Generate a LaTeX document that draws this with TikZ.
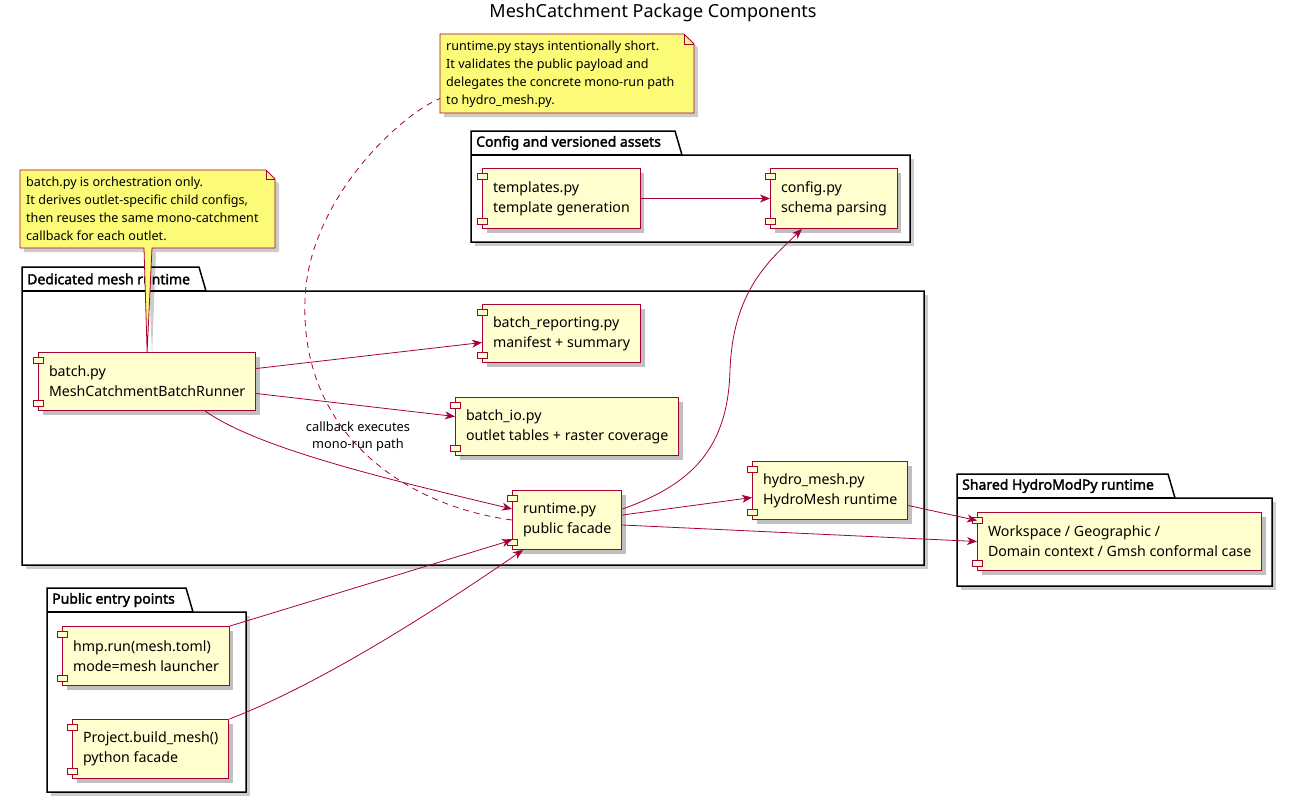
\documentclass[tikz,border=0pt]{standalone}
\usepackage{fontspec}
\setmainfont{Noto Sans}
\newfontfamily\pkgfont{Noto Sans}[FakeBold=2.2]
\usetikzlibrary{arrows.meta}
\usetikzlibrary{shadows}

\definecolor{umlred}{HTML}{A80036}
\definecolor{compfill}{HTML}{FEFECE}
\definecolor{notefill}{HTML}{FBFB77}

\tikzset{
  comp/.style={draw=umlred,fill=compfill,line width=1pt,anchor=north west,align=left,
    inner xsep=10.5pt,minimum height=58pt,font=\fontsize{14.2}{20}\selectfont,
    drop shadow={shadow xshift=4pt,shadow yshift=-4pt,opacity=0.25,fill=black}},
  compicon/.style={draw=umlred,fill=compfill,line width=1pt},
  flow/.style={draw=umlred,line width=0.8pt,-{Stealth[length=10pt,width=8pt,inset=3pt]}},
  notelink/.style={draw=umlred,line width=0.8pt,dashed,dash pattern=on 6pt off 5pt},
  notebody/.style={draw=umlred,fill=notefill,line width=0.8pt},
  notetext/.style={anchor=west,align=left,inner xsep=6pt,inner ysep=0pt,
    font=\fontsize{12.6}{18}\selectfont},
  pkgline/.style={draw=black,line width=1.5pt,fill=white},
  pkgtitle/.style={anchor=west,inner sep=0pt,font=\fontsize{14}{16}\selectfont\pkgfont},
  shade/.style={fill=black,opacity=0.2}
}

% #1 x left, #2 tab top, #3 tab right, #4 x right, #5 bottom, #6 name, #7 title
\newcommand{\pkgbox}[7]{%
  \fill[shade] ({#1+4},{#2+28}) rectangle ({#4+4},{#5+4});
  \draw[pkgline] ({#1},{#2+24}) -- ({#1},{#2}) -- ({#3},{#2}) -- ({#3+7},{#2+24})
    -- ({#4},{#2+24}) -- ({#4},{#5}) -- ({#1},{#5}) -- cycle;
  \draw[line width=1.2pt] ({#1},{#2+24}) -- ({#3+7},{#2+24});
  \node[pkgtitle] (#6) at ({#1+5},{#2+12}) {#7};
}

\begin{document}
\begin{tikzpicture}[x=1pt,y=-1pt]
    \useasboundingbox (0,0) rectangle (1293,804);

    \node[font=\fontsize{18}{20}\selectfont] (title) at (653,13) {MeshCatchment Package Components};

    %Packages
    \pkgbox{471}{131}{675}{910}{242}{cfgpkg}{Config and versioned assets}
    \pkgbox{22}{267}{199}{924}{565}{meshpkg}{Dedicated mesh runtime}
    \pkgbox{957}{474}{1168}{1272}{586}{sharedpkg}{Shared HydroModPy runtime}
    \pkgbox{47}{588}{186}{246}{792}{entrypkg}{Public entry points}

    %Components
    \node[comp,minimum height=60pt] (templates) at (482,168) {templates.py\\template generation};
    \node[comp,minimum height=60pt] (config) at (770,168) {config.py\\schema parsing};
    \node[comp] (batch) at (38,352) {batch.py\\MeshCatchmentBatchRunner};
    \node[comp] (report) at (482,304) {batch\_reporting.py\\manifest + summary};
    \node[comp] (batchio) at (455,397) {batch\_io.py\\outlet tables + raster coverage};
    \node[comp,minimum height=59pt] (runtime) at (512,490) {runtime.py\\public facade};
    \node[comp] (hydro) at (752,461) {hydro\_mesh.py\\HydroMesh runtime};
    \node[comp] (workspace) at (977,512) {Workspace / Geographic /\\Domain context / Gmsh conformal case};
    \node[comp,minimum height=59pt] (hmprun) at (62,626) {hmp.run(mesh.toml)\\mode=mesh launcher};
    \node[comp,minimum height=59pt] (buildmesh) at (72,719) {Project.build\_mesh()\\python facade};

    \foreach \n in {templates,config,batch,report,batchio,runtime,hydro,workspace,hmprun,buildmesh} {
        \draw[compicon] ([xshift=-5pt,yshift=-5pt]\n.north west) rectangle ++(10pt,-6pt);
        \draw[compicon] ([xshift=-5pt,yshift=5pt]\n.south west) rectangle ++(10pt,6pt);
    }

    %Notes
    \fill[shade] (444,38) -- (688,38) -- (698,48) -- (698,117) -- (444,117) -- cycle;
    \draw[notebody] (440,34) -- (684,34) -- (694,44) -- (694,113) -- (440,113) -- cycle;
    \draw[umlred,line width=0.8pt] (684,34) -- (684,44) -- (694,44);
    \node[notetext] (runnote) at (440,74)
        {runtime.py stays intentionally short.\\It validates the public payload and\\delegates the concrete mono-run path\\to hydro\_mesh.py.};

    \fill[shade] (24,174) -- (269,174) -- (279,184) -- (279,252) -- (156,252) -- (152,356) -- (148,252) -- (24,252) -- cycle;
    \draw[notebody] (20,170) -- (266,170) -- (275,179) -- (275,248) -- (152,248) -- (batch.north) -- (144,248) -- (20,248) -- cycle;
    \draw[umlred,line width=0.8pt] (266,170) -- (266,179) -- (275,179);
    \node[notetext] (batchnote) at (20,209)
        {batch.py is orchestration only.\\It derives outlet-specific child configs,\\then reuses the same mono-catchment\\callback for each outlet.};

    %Connectors
    \draw[flow] (templates.east) -- (config.west);
    \draw[flow] ([yshift=13pt]batch.east) -- ([yshift=-9pt]report.west);
    \draw[flow] ([yshift=-12pt]batch.east) -- ([yshift=10pt]batchio.west);
    \draw[flow] ([xshift=58pt]batch.south) .. controls (260,450) and (400,482) .. ([yshift=11pt]runtime.west);
    \node[font=\fontsize{12.8}{17}\selectfont,align=center] (cblabel) at (358,437) {callback executes\\mono-run path};
    \draw[notelink] (runtime.west) .. controls (400,505) and (300,430) .. (305,300)
        .. controls (308,200) and (400,115) .. ([yshift=9pt]runnote.south west);
    \draw[flow] ([yshift=11pt]runtime.east) .. controls (690,485) and (728,450) .. (730,370)
        .. controls (733,290) and (770,260) .. ([xshift=-32pt]config.south);
    \draw[flow] ([yshift=5pt]runtime.east) -- ([yshift=-7pt]hydro.west);
    \draw[flow] ([yshift=-5pt]runtime.east) -- (workspace.west);
    \draw[flow] ([yshift=-15pt]hydro.east) -- ([yshift=21pt]workspace.west);
    \draw[flow] (hmprun.north east) -- ([yshift=10pt]runtime.south west);
    \draw[flow] (buildmesh.north east) .. controls (330,680) and (450,600) .. ([xshift=11pt]runtime.south west);

\end{tikzpicture}
\end{document}
